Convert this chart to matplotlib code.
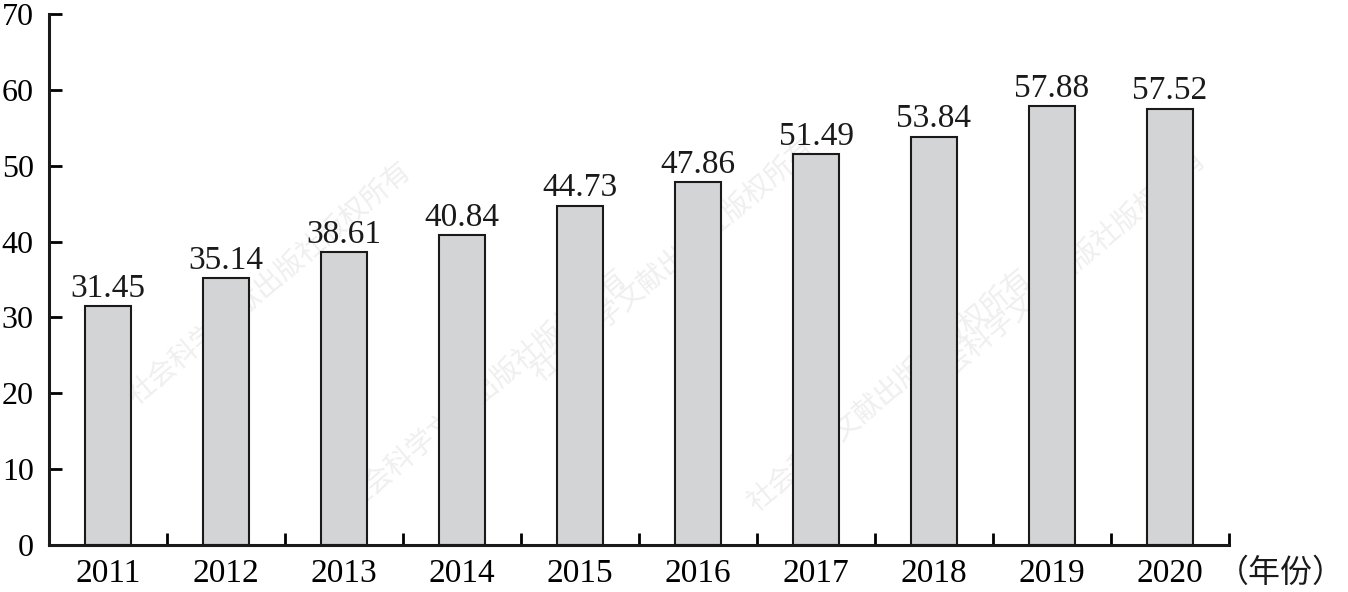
import matplotlib.pyplot as plt

years = ["2011", "2012", "2013", "2014", "2015", "2016", "2017", "2018", "2019", "2020"]
values = [31.45, 35.14, 38.61, 40.84, 44.73, 47.86, 51.49, 53.84, 57.88, 57.52]
y_ticks = [0, 10, 20, 30, 40, 50, 60, 70]
x_unit = "（年份）"
watermark = "社会科学文献出版社版权所有"

plt.rcParams["font.family"] = ["Liberation Serif", "DejaVu Serif"]

fig = plt.figure(figsize=(13.48, 5.92), dpi=100)
ax = fig.add_axes([0.0364, 0.0794, 0.8753, 0.897])

# faint diagonal watermark, kept inside the figure and behind the axes
for (wx, wy) in [(0.20, 0.52), (0.50, 0.56), (0.79, 0.54), (0.36, 0.34), (0.66, 0.34)]:
    fig.text(wx, wy, watermark, rotation=40, fontsize=20, color="#efefef",
             family=["Noto Sans CJK SC"], ha="center", va="center", zorder=-1)

x = list(range(len(years)))
ax.bar(x, values, width=0.39, color="#d3d4d6", edgecolor="#1a1a1a", linewidth=1.5, zorder=2)
for xi, v in zip(x, values):
    ax.text(xi, v + 0.3, f"{v:.2f}", ha="center", va="bottom", fontsize=24, color="#1a1a1a")

ax.set_xlim(-0.5, len(years) - 0.5)
ax.set_ylim(0, 70)
ax.set_yticks(y_ticks)
ax.set_yticklabels([str(t) for t in y_ticks], fontsize=23)
ax.set_xticks(x)
ax.set_xticklabels(years, fontsize=24)
ax.tick_params(axis="x", length=0, pad=10)
ax.set_xticks([i + 0.5 for i in range(-1, len(years))], minor=True)
ax.tick_params(axis="x", which="minor", direction="in", length=9, width=2)
ax.tick_params(axis="y", direction="in", length=9, width=2, pad=11)

for s in ["top", "right"]:
    ax.spines[s].set_visible(False)
for s in ["left", "bottom"]:
    ax.spines[s].set_linewidth(2.2)
    ax.spines[s].set_color("#1a1a1a")
ax.patch.set_alpha(0)

fig.text(0.998, 0.033, x_unit, ha="right", va="center", fontsize=23,
         family=["Noto Sans CJK SC"], color="#1a1a1a")

fig.savefig("out.png", dpi=100)
